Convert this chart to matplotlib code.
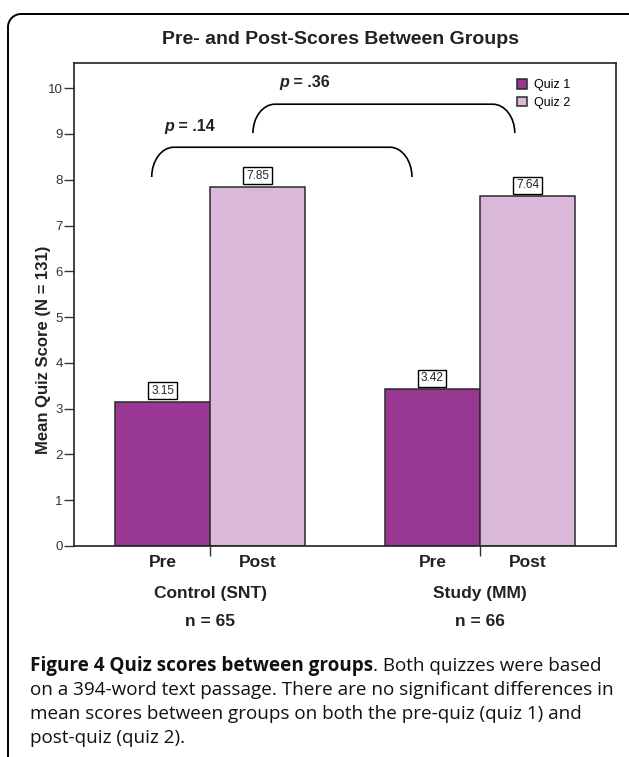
import numpy as np
import matplotlib
matplotlib.use('Agg')
import matplotlib.pyplot as plt
from matplotlib.patches import PathPatch
from matplotlib.path import Path

# data
groups = ['Control (SNT)', 'Study (MM)']
group_n = ['n = 65', 'n = 66']
quiz_names = ['Quiz 1', 'Quiz 2']
phase_labels = ['Pre', 'Post']
quiz1 = [3.15, 3.42]
quiz2 = [7.85, 7.64]
p_values = ['.14', '.36']
yticks = list(range(0, 11))

title = 'Pre- and Post-Scores Between Groups'
ylabel = 'Mean Quiz Score (N = 131)'
caption_bold = 'Figure 4 Quiz scores between groups'
caption_lines = ['. Both quizzes were based',
                 'on a 394-word text passage. There are no significant differences in',
                 'mean scores between groups on both the pre-quiz (quiz 1) and',
                 'post-quiz (quiz 2).']

c1 = '#983892'
c2 = '#d9b8d9'
edge = '#2a2a2a'
txt = '#222222'

plt.rcParams['font.family'] = ['Liberation Sans', 'DejaVu Sans']

W, H = 629, 757
fig = plt.figure(figsize=(W / 100, H / 100), dpi=100)

# outer rounded frame (runs off the right and bottom edges)
r = 13
fx = lambda px: px / W
fy = lambda py: 1 - py / H
x0, y0 = 8, 14
verts = [(fx(x0), fy(H + 10)), (fx(x0), fy(y0 + r)),
         (fx(x0), fy(y0 + r * 0.45)), (fx(x0 + r * 0.45), fy(y0)), (fx(x0 + r), fy(y0)),
         (fx(W + 10), fy(y0))]
codes = [Path.MOVETO, Path.LINETO, Path.CURVE4, Path.CURVE4, Path.CURVE4, Path.LINETO]
fig.add_artist(PathPatch(Path(verts, codes), fill=False, lw=1.4, ec='black',
                         transform=fig.transFigure))

ax_l, ax_r, ax_t, ax_b = 74, 616, 63, 546
ax = fig.add_axes([ax_l / W, 1 - ax_b / H, (ax_r - ax_l) / W, (ax_b - ax_t) / H])

x = np.arange(len(groups))
w = 0.352
b1 = ax.bar(x - w / 2, quiz1, w, color=c1, edgecolor=edge, linewidth=1.1, label=quiz_names[0])
b2 = ax.bar(x + w / 2, quiz2, w, color=c2, edgecolor=edge, linewidth=1.1, label=quiz_names[1])
ax.set_xlim(-0.504, 1.504)
ax.set_ylim(0, 10.55)

for s in ax.spines.values():
    s.set_linewidth(1.2)
    s.set_color('#222222')
ax.set_yticks(yticks)
ax.tick_params(axis='y', length=7, width=1, labelsize=9.5, pad=1, colors='#333333')
ax.set_xticks(x)
ax.tick_params(axis='x', length=7.5, width=1, labelbottom=False, colors='#333333')

# value boxes
for bars, vals in ((b1, quiz1), (b2, quiz2)):
    for b, v in zip(bars, vals):
        ax.annotate(f'{v:.2f}', xy=(b.get_x() + b.get_width() / 2, v), xytext=(0, 3.6),
                    textcoords='offset points', ha='center', va='bottom', fontsize=8.5,
                    color=txt,
                    bbox=dict(boxstyle='square,pad=0.22', fc='white', ec='black', lw=1))

# Pre / Post, group names, n
for i in range(len(groups)):
    for j, lab in enumerate(phase_labels):
        xc = x[i] + (j - 0.5) * w
        ax.annotate(lab, xy=(xc, 0), xycoords=('data', 'axes fraction'), xytext=(0, -9),
                    textcoords='offset pixels', ha='center', va='top',
                    fontsize=12.5, fontweight='bold', color=txt)
    ax.annotate(groups[i], xy=(x[i], 0), xycoords=('data', 'axes fraction'), xytext=(0, -40),
                textcoords='offset pixels', ha='center', va='top',
                fontsize=12.5, fontweight='bold', color=txt)
    ax.annotate(group_n[i], xy=(x[i], 0), xycoords=('data', 'axes fraction'), xytext=(0, -68),
                textcoords='offset pixels', ha='center', va='top',
                fontsize=12.5, fontweight='bold', color=txt)

ax.text(-0.057, 0.406, ylabel, rotation=90, ha='center', va='center', transform=ax.transAxes,
        fontsize=12, fontweight='bold', color=txt)

fig.text(341 / W, 1 - 40 / H, title, ha='center', va='center', fontsize=14,
         fontweight='bold', color=txt)

ax.legend(loc='upper left', bbox_to_anchor=(0.818, 0.966), frameon=False, fontsize=9,
          handlelength=0.75, handleheight=0.75, handletextpad=0.6, labelspacing=0.45,
          borderaxespad=0, borderpad=0)

# significance brackets: pre vs pre, post vs post
pxx = (ax_r - ax_l) / (1.504 + 0.504)
spans = [(x[0] - w / 2 - 0.04, x[1] - w / 2 - 0.076, 8.06, 8.71),
         (x[0] + w / 2 - 0.017, x[1] + w / 2 - 0.047, 9.02, 9.65)]
text_shift = [0.045, 0.096]
for (xl, xr, yb, yt), pv, ts in zip(spans, p_values, text_shift):
    rx = 22 / pxx
    hgt = yt - yb
    k = 0.55
    verts = [(xl, yb), (xl, yb + k * hgt), (xl + (1 - k) * rx, yt), (xl + rx, yt),
             (xr - rx, yt),
             (xr - (1 - k) * rx, yt), (xr, yb + k * hgt), (xr, yb)]
    codes = [Path.MOVETO, Path.CURVE4, Path.CURVE4, Path.CURVE4, Path.LINETO,
             Path.CURVE4, Path.CURVE4, Path.CURVE4]
    ax.add_patch(PathPatch(Path(verts, codes), fill=False, lw=1.2, ec='black', clip_on=False))
    t = ax.text(xl + ts, yt + 0.3, 'p', ha='left', va='bottom', fontsize=11.5,
                fontweight='bold', fontstyle='italic', color=txt)
    ax.annotate(' = ' + pv, xy=(1, 0), xycoords=t, ha='left', va='bottom', fontsize=11.5,
                fontweight='bold', color=txt)

# caption
cap_font = ['Open Sans', 'DejaVu Sans']
cap_size = 13.6
cap_x = 30 / W
cap_y = [666, 690, 714, 738]
tb = fig.text(cap_x, 1 - cap_y[0] / H, caption_bold, ha='left', va='center', fontsize=cap_size,
              fontweight='bold', family=cap_font, color='#111111')
fig.canvas.draw()
bb = tb.get_window_extent()
fig.text(bb.x1 / W, 1 - cap_y[0] / H, caption_lines[0], ha='left', va='center',
         fontsize=cap_size, family=cap_font, color='#111111')
for line, yy in zip(caption_lines[1:], cap_y[1:]):
    fig.text(cap_x, 1 - yy / H, line, ha='left', va='center', fontsize=cap_size,
             family=cap_font, color='#111111')

fig.savefig('out.png', dpi=100)
